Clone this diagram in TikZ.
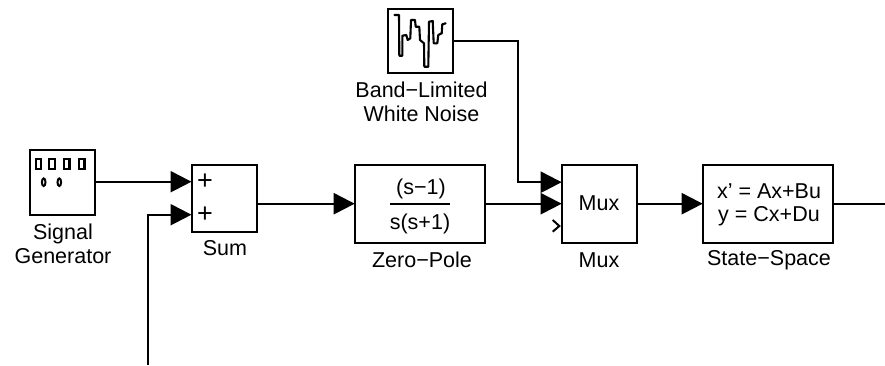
\documentclass[tikz,border=0pt]{standalone}
\usepackage{fontspec}
\setmainfont{Liberation Sans}
\usetikzlibrary{arrows.meta}
\tikzset{
  block/.style={draw=black,line width=2pt,fill=white,inner sep=0pt,outer sep=0pt,anchor=north west},
  captext/.style={inner sep=0pt,align=center,font=\fontsize{21.5}{24}\selectfont},
  wire/.style={line width=2.3pt,draw=black},
  arrowed/.style={wire,-{Triangle[length=21pt,width=21pt,fill=black]}},
  bodytext/.style={inner sep=0pt,align=center,font=\fontsize{21.5}{23}\selectfont},
  plustext/.style={inner sep=0pt,font=\fontsize{27}{27}\selectfont},
  glyphline/.style={line width=2.1pt,draw=black}
}
\begin{document}
\begin{tikzpicture}[x=1pt,y=-1pt]
\useasboundingbox (0,0) rectangle (885,365);
% blocks
\node[block,minimum width=65pt,minimum height=65pt] (gen) at (29.5,149.5) {};
\node[block,minimum width=65.5pt,minimum height=67pt] (sum) at (191.5,164.7) {};
\node[block,minimum width=65pt,minimum height=64pt] (noise) at (387.5,9) {};
\node[block,minimum width=130.6pt,minimum height=78pt] (zp) at (354.7,164.7) {};
\node[block,minimum width=75.5pt,minimum height=78pt] (mux) at (561.7,164.7) {};
\node[block,minimum width=130pt,minimum height=78pt] (ss) at (702.7,164.7) {};
% captions
\node[captext] (capgen) at (63,244) {Signal\\Generator};
\node[captext] (capsum) at (225,248) {Sum};
\node[captext] (capnoise) at (421.5,101.5) {Band−Limited\\White Noise};
\node[captext] (capzp) at (422,260) {Zero−Pole};
\node[captext] (capmux) at (599,260) {Mux};
\node[captext] (capss) at (769,260) {State−Space};
% block texts
\node[plustext] (plus1) at (205,182) {+};
\node[plustext] (plus2) at (205,214.5) {+};
\node[bodytext] (num) at (421,189) {(s−1)};
\node[bodytext] (den) at (420,224) {s(s+1)};
\coordinate (barl) at (390,203.5);
\coordinate (barr) at (450,203.5);
\draw[line width=2pt] (barl) -- (barr);
\node[bodytext] (muxt) at (599,203) {Mux};
\node[bodytext] (sst) at (769,204.5) {x’ = Ax+Bu\\y = Cx+Du};
% generator icon
\foreach \x in {38.5,52,66.7,81.7}{\draw[glyphline] (\x-2.8,158.8) rectangle (\x+2.8,168.6);}
\foreach \x in {43.7,59.3}{\draw[line width=2pt] (\x,182.2) ellipse (1.8pt and 3.8pt);}
% noise icon
\draw[glyphline,line join=round,line cap=round] (394.3,15) -- (399,15) -- (399.3,55.7) -- (402.3,55.7) -- (402.3,35.7) -- (406.3,35)
  -- (407.7,40) -- (410.3,38.3) -- (411,20) -- (415,20) -- (415.7,26.7) -- (419.3,26.7) -- (420,40) -- (424,43.3) -- (424.3,66.7) -- (428.3,66.7) -- (429,21.7) -- (432.7,21) -- (433.7,43.3) -- (437.3,43.3) -- (438.3,35) -- (441.7,33.3) -- (442.3,24.3) -- (445.7,23.3);
% connectors
\coordinate (sumA) at ([yshift=16.5pt]sum.west);
\coordinate (sumB) at ([yshift=-16.5pt]sum.west);
\coordinate (muxA) at ([yshift=21.5pt]mux.west);
\coordinate (muxB) at (mux.west);
\coordinate (free) at (148,365);
\coordinate (elbow) at (518,0);
\coordinate (ssfree) at (885,0);
\coordinate (chevtop) at (552.7,220);
\coordinate (chevtip) at (559.3,226);
\coordinate (chevbot) at (552.7,231.7);
\draw[arrowed] (gen.east |- sumA) -- (sumA);
\draw[arrowed] (free) |- (sumB);
\draw[arrowed] (sum.east |- zp.west) -- (zp.west);
\draw[arrowed] (zp.east) -- (muxB);
\draw[arrowed] (noise.east) -- (noise.east -| elbow) -- (muxA -| elbow) -- (muxA);
\draw[arrowed] (mux.east) -- (ss.west);
\draw[wire] (ss.east) -- (ss.east -| ssfree);
\draw[line width=2pt] (chevtop) -- (chevtip) -- (chevbot);
\end{tikzpicture}
\end{document}
